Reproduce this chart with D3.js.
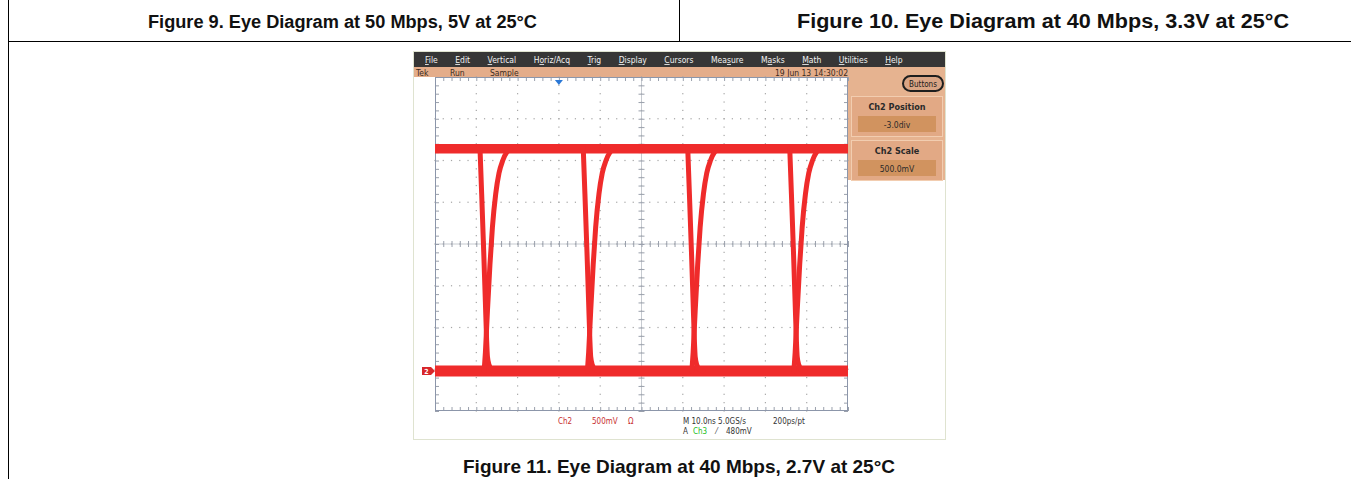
<!DOCTYPE html>
<html><head><meta charset="utf-8">
<script src="https://cdn.jsdelivr.net/npm/d3@7"></script>
<style>body{margin:0;background:#fff}svg{display:block}</style>
</head><body>
<svg id="c" width="1351" height="479"></svg>
<script>
// ---------- data ----------
const titles = ["Figure 9. Eye Diagram at 50 Mbps, 5V at 25°C", "Figure 10. Eye Diagram at 40 Mbps, 3.3V at 25°C"];
const caption = "Figure 11. Eye Diagram at 40 Mbps, 2.7V at 25°C";
const menuItems = ["File","Edit","Vertical","Horiz/Acq","Trig","Display","Cursors","Measure","Masks","Math","Utilities","Help"];
const menuUnderlineIdx = [0,0,0,1,0,0,0,3,1,0,0,0];
const statusLeft = ["Tek","Run","Sample"];
const statusDate = "19 Jun 13 14:30:02";
const panelTitles = ["Ch2 Position","Ch2 Scale"];
const panelValues = ["-3.0div","500.0mV"];
// time axis (ns), 10 ns/div; voltage axis (V), 500 mV/div, position -3 div
const timeDomain = [0, 100];
const voltDomain = [-0.5, 3.5];
const timeTicks = d3.range(0, 100.01, 10);
const voltTicks = d3.range(-0.5, 3.501, 0.5);
const highLevel = 2.64, lowLevel = -0.02;
const edgeStarts = [10.9, 35.9, 61.2, 85.9];           // ns, start of each transition group
const fallT = [0, 0.4, 0.9, 1.3, 1.6, 1.8, 2.2, 2.8, 3.6];
const fallV = [2.64, 2.1, 1.4, 0.8, 0.35, 0.15, 0.05, 0.0, -0.02];
const riseT = [1.0, 1.3, 1.8, 2.4, 3.0, 3.8, 4.6, 5.5, 6.5, 7.5];
const riseV = [-0.02, 0.2, 0.7, 1.25, 1.7, 2.1, 2.35, 2.5, 2.6, 2.64];
const triggerTime = 30;
const readout1 = ["Ch2", "500mV", "Ω"];
const readout2 = "M 10.0ns 5.0GS/s", readout3 = "200ps/pt";
const readout4 = ["A", "Ch3", "⁄", "480mV"];

// ---------- drawing ----------
const svg = d3.select("#c");
const F = "'Liberation Sans', Arial, sans-serif";
const UI = "'DejaVu Sans Condensed','DejaVu Sans', sans-serif";

// page frame lines
svg.append("line").attr("x1",8.5).attr("x2",8.5).attr("y1",0).attr("y2",479).attr("stroke","#000");
svg.append("line").attr("x1",679.5).attr("x2",679.5).attr("y1",0).attr("y2",41).attr("stroke","#000");
svg.append("line").attr("x1",8).attr("x2",1351).attr("y1",41.5).attr("y2",41.5).attr("stroke","#000");
const titleLayout = [{cx:342.5, w:389, fs:18}, {cx:1043, w:492, fs:19.5}];
svg.selectAll("text.title").data(titles).join("text").attr("class","title")
  .attr("x",(d,i)=> titleLayout[i].cx).attr("y",27.5).attr("text-anchor","middle")
  .attr("textLength",(d,i)=>titleLayout[i].w).attr("lengthAdjust","spacingAndGlyphs")
  .attr("font-family",F).attr("font-weight","bold").attr("font-size",(d,i)=>titleLayout[i].fs).attr("fill","#111").text(d=>d);
svg.append("text").attr("x",679).attr("y",472.5).attr("text-anchor","middle")
  .attr("textLength",432).attr("lengthAdjust","spacingAndGlyphs")
  .attr("font-family",F).attr("font-weight","bold").attr("font-size",18.5).attr("fill","#111").text(caption);

// scope screenshot
const scope = svg.append("g");
scope.append("rect").attr("x",413.5).attr("y",51.5).attr("width",532).attr("height",388).attr("fill","#fff").attr("stroke","#dfe3d0");
// menu bar
scope.append("rect").attr("x",414).attr("y",52).attr("width",531).attr("height",15).attr("fill","#363636");
let mx = 425;
const menuG = scope.append("g").attr("font-family",UI).attr("font-size",8.5).attr("fill","#f2f2f2");
menuItems.forEach((m,i)=>{
  const t = menuG.append("text").attr("x",mx).attr("y",63);
  const k = menuUnderlineIdx[i];
  if (k>0) t.append("tspan").text(m.slice(0,k));
  t.append("tspan").attr("text-decoration","underline").text(m[k]);
  t.append("tspan").text(m.slice(k+1));
  mx += t.node().getComputedTextLength() + 17.5;
});
// status row + right panel
scope.append("rect").attr("x",414).attr("y",67).attr("width",531).attr("height",10).attr("fill","#e4ad8a");
scope.append("rect").attr("x",848).attr("y",67).attr("width",97).attr("height",113).attr("fill","#e6b390");
const stG = scope.append("g").attr("font-family",UI).attr("font-size",8.5).attr("fill","#3a2a20");
[416,450,490].forEach((x,i)=> stG.append("text").attr("x",x).attr("y",75.5).text(statusLeft[i]));
stG.append("text").attr("x",848).attr("y",75.5).attr("text-anchor","end").text(statusDate);
// Buttons pill
scope.append("rect").attr("x",903).attr("y",76).attr("width",40).attr("height",15).attr("rx",7.5)
  .attr("fill","#d9a585").attr("stroke","#1e1e1e").attr("stroke-width",2);
scope.append("text").attr("x",923).attr("y",87).attr("text-anchor","middle").attr("font-family",UI)
  .attr("font-size",8).attr("fill","#1a1a1a").text("Buttons");
panelTitles.forEach((p,i)=>{
  const y0 = 96 + i*44;
  scope.append("rect").attr("x",851.5).attr("y",y0+0.5).attr("width",91).attr("height",40)
    .attr("fill","#e2a985").attr("stroke","#f2cdb0");
  scope.append("text").attr("x",897).attr("y",y0+14).attr("text-anchor","middle").attr("font-family",UI)
    .attr("font-weight","bold").attr("font-size",9).attr("fill","#2a2a2a").text(p);
  scope.append("rect").attr("x",858).attr("y",y0+20).attr("width",78).attr("height",16).attr("fill","#d1935f");
  scope.append("text").attr("x",897).attr("y",y0+31.5).attr("text-anchor","middle").attr("font-family",UI)
    .attr("font-size",8.5).attr("fill","#2a2a2a").text(panelValues[i]);
});

// plot area
const x = d3.scaleLinear().domain(timeDomain).range([435, 848]);
const y = d3.scaleLinear().domain(voltDomain).range([411, 77]);
const plot = scope.append("g");
plot.append("rect").attr("x",435).attr("y",77).attr("width",413).attr("height",334).attr("fill","#fff");
// grid dots
const minorT = d3.range(0, 100.01, 2);
const minorV = d3.range(-0.5, 3.501, 0.1);
const dots = [];
timeTicks.slice(1,-1).forEach(t=> minorV.forEach(v=> dots.push([t,v])));
voltTicks.slice(1,-1).forEach(v=> minorT.forEach(t=> dots.push([t,v])));
plot.selectAll("rect.dot").data(dots).join("rect").attr("class","dot")
  .attr("x",d=>x(d[0])-0.6).attr("y",d=>y(d[1])-0.6).attr("width",1.2).attr("height",1.2).attr("fill","#a5a5a5");
// centre cross
plot.append("line").attr("x1",x(50)).attr("x2",x(50)).attr("y1",77).attr("y2",411).attr("stroke","#b8bcc4").attr("stroke-width",0.8);
plot.append("line").attr("x1",435).attr("x2",848).attr("y1",y(1.5)).attr("y2",y(1.5)).attr("stroke","#b8bcc4").attr("stroke-width",0.8);
const tickStyle = g => { g.select(".domain").remove(); g.selectAll("line").attr("stroke","#9aa0ac"); };
plot.append("g").attr("transform",`translate(0,${y(1.5)})`).call(d3.axisBottom(x).tickValues(minorT).tickSize(3).tickFormat("")).call(tickStyle)
  .call(g=>g.selectAll("line").attr("y1",-3));
plot.append("g").attr("transform",`translate(${x(50)},0)`).call(d3.axisLeft(y).tickValues(minorV).tickSize(3).tickFormat("")).call(tickStyle)
  .call(g=>g.selectAll("line").attr("x1",3));
plot.append("g").attr("transform","translate(0,77)").call(d3.axisTop(x).tickValues(minorT).tickSize(-4).tickFormat("")).call(tickStyle);
plot.append("g").attr("transform","translate(0,411)").call(d3.axisBottom(x).tickValues(minorT).tickSize(-4).tickFormat("")).call(tickStyle);
plot.append("g").attr("transform","translate(435,0)").call(d3.axisLeft(y).tickValues(minorV).tickSize(-4).tickFormat("")).call(tickStyle);
plot.append("g").attr("transform","translate(848,0)").call(d3.axisRight(y).tickValues(minorV).tickSize(-4).tickFormat("")).call(tickStyle);
plot.append("rect").attr("x",435.5).attr("y",77.5).attr("width",412).attr("height",333).attr("fill","none").attr("stroke","#8c96aa");

// waveform
const red = "#ef2b2b";
const line = d3.line().x(d=>x(d[0])).y(d=>y(d[1])).curve(d3.curveMonotoneX);
const wave = plot.append("g").attr("fill","none").attr("stroke",red).attr("stroke-linecap","round");
[highLevel, lowLevel].forEach((lv,i)=>
  wave.append("path").attr("d", line([[timeDomain[0],lv],[timeDomain[1],lv]])).attr("stroke-width", i===0 ? 9.5 : 11).attr("stroke-linecap","butt"));
edgeStarts.forEach(t0=>{
  wave.append("path").attr("d", line(fallT.map((t,i)=>[t0+t, fallV[i]]))).attr("stroke-width",5);
  wave.append("path").attr("d", line(riseT.map((t,i)=>[t0+t, riseV[i]]))).attr("stroke-width",5);
});
// ground marker (Ch2)
const gy = y(lowLevel);
plot.append("path").attr("d",`M422,${gy-4}h9l4,4l-4,4h-9z`).attr("fill","#d8262a");
plot.append("text").attr("x",426.5).attr("y",gy+3).attr("text-anchor","middle").attr("font-family",UI)
  .attr("font-size",7).attr("font-weight","bold").attr("fill","#fff").text("2");
// trigger position marker
plot.append("path").attr("d",`M${x(triggerTime)-4},80l8,0l-4,5z`).attr("fill","#2a78d6");

// readouts
const rd = scope.append("g").attr("font-family",UI).attr("font-size",8);
[558,592,628].forEach((xx,i)=> rd.append("text").attr("x",xx).attr("y",424).attr("fill","#c83030").text(readout1[i]));
rd.append("text").attr("x",683).attr("y",424).attr("fill","#333").text(readout2);
rd.append("text").attr("x",773).attr("y",424).attr("fill","#333").text(readout3);
[[683,"#333"],[693,"#22c022"],[716,"#333"],[726,"#333"]].forEach(([xx,c],i)=>
  rd.append("text").attr("x",xx).attr("y",434).attr("fill",c).text(readout4[i]));
</script>
</body></html>
